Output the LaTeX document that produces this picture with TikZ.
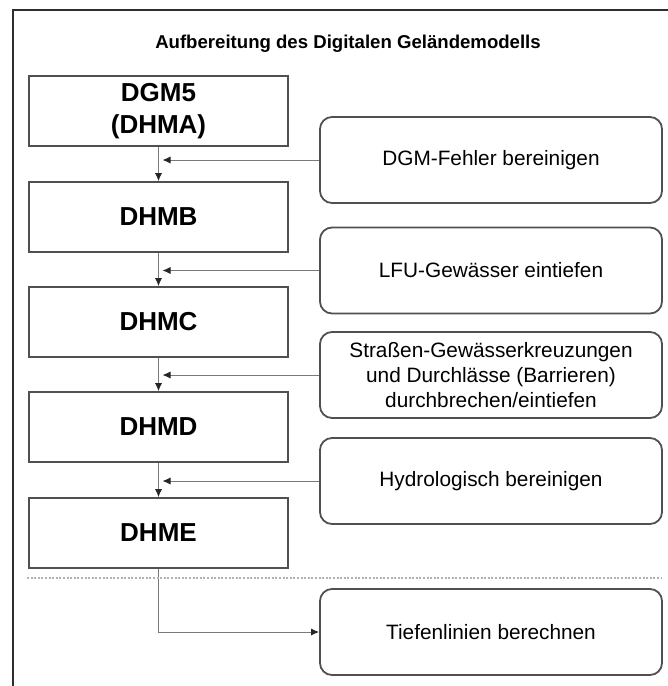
\documentclass[tikz,border=0pt]{standalone}
\usepackage{fontspec}
\setmainfont{Liberation Sans}
\usetikzlibrary{arrows.meta}
\definecolor{rahmen}{HTML}{2E2E2E}
\definecolor{kante}{HTML}{505050}
\definecolor{pfeil}{HTML}{7A7A7A}
\tikzset{
  modell/.style={draw=kante, line width=0.9pt, minimum width=129.5pt, minimum height=35pt,
    inner sep=0pt, align=center, font=\fontsize{13}{16}\selectfont\bfseries},
  schritt/.style={draw=kante, line width=0.9pt, rounded corners=6pt, minimum width=171pt,
    minimum height=43pt, inner sep=0pt, align=center, font=\fontsize{10.4}{12.5}\selectfont},
  fluss/.style={draw=pfeil, line width=0.5pt, -{Latex[length=4pt,width=3.6pt,color=black!85]}}
}

\begin{document}
\begin{tikzpicture}[x=0.5pt,y=-0.5pt]
    \useasboundingbox (0,0) rectangle (668,686);
    \draw[rahmen, line width=1.3pt] (13,686) -- (13,10) -- (668,10);
    \node (titel) at (348,44) {\fontsize{9.3}{11}\selectfont\bfseries Aufbereitung des Digitalen Geländemodells};

    \node[modell] (dgm) at (158.5,111) {\raisebox{-1.5pt}{DGM5}\\\raisebox{-1.5pt}{(DHMA)}};
    \node[modell] (dhmb) at (158.5,217) {DHMB};
    \node[modell] (dhmc) at (158.5,322) {DHMC};
    \node[modell] (dhmd) at (158.5,427) {DHMD};
    \node[modell] (dhme) at (158.5,533) {DHME};

    \node[schritt] (fehler) at (491,160) {DGM-Fehler bereinigen};
    \node[schritt] (lfu) at (491,270.5) {LFU-Gewässer eintiefen};
    \node[schritt] (strassen) at (491,375) {Straßen-Gewässerkreuzungen\\und Durchlässe (Barrieren)\\durchbrechen/eintiefen};
    \node[schritt] (hydro) at (491,481) {Hydrologisch bereinigen};
    \node[schritt] (tiefen) at (491,632) {Tiefenlinien berechnen};

    \draw[fluss] (dgm) -- (dhmb);
    \draw[fluss] (dhmb) -- (dhmc);
    \draw[fluss] (dhmc) -- (dhmd);
    \draw[fluss] (dhmd) -- (dhme);
    \draw[fluss, shorten >=2pt] (fehler.west) -- (fehler.west -| dgm.south);
    \draw[fluss, shorten >=2pt] (lfu.west) -- (lfu.west -| dhmb.south);
    \draw[fluss, shorten >=2pt] (strassen.west) -- (strassen.west -| dhmc.south);
    \draw[fluss, shorten >=2pt] (hydro.west) -- (hydro.west -| dhmd.south);
    \draw[fluss] (dhme.south) |- (tiefen.west);

    \draw[gray!60, line width=0.8pt, dash pattern=on 1pt off 0.8pt] (27,578) -- (662,578);
  \end{tikzpicture}
\end{document}
